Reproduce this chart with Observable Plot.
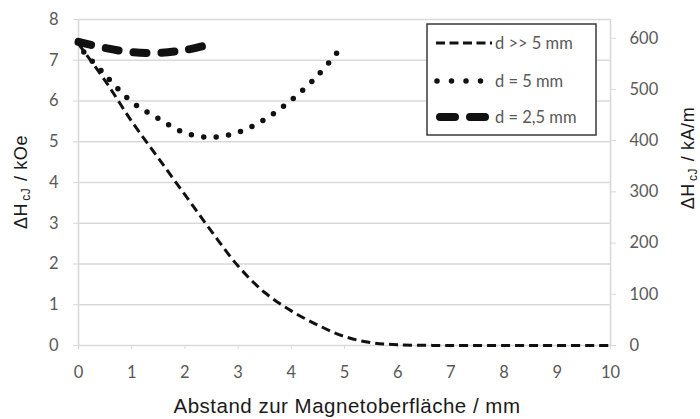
<!DOCTYPE html>
<html>
<head>
<meta charset="utf-8">
<script src="https://cdn.jsdelivr.net/npm/d3@7"></script>
<script src="https://cdn.jsdelivr.net/npm/@observablehq/plot@0.6"></script>
<style>
  html, body { margin: 0; padding: 0; background: #fff; }
  #chart svg { display: block; }
</style>
</head>
<body>
<div id="chart"></div>
<script>
// ---- data ----
const xTicks = [0, 1, 2, 3, 4, 5, 6, 7, 8, 9, 10];
const yLeftTicks = [0, 1, 2, 3, 4, 5, 6, 7, 8];
const yRightTicks = [0, 100, 200, 300, 400, 500, 600]; // kA/m
const KAM_PER_KOE = 79.577; // 1 kOe = 79.577 kA/m

const seriesNames = ["d >> 5 mm", "d = 5 mm", "d = 2,5 mm"];

const farX = [0, 0.5, 1, 1.5, 2, 2.5, 3, 3.5, 4, 4.5, 5, 5.5, 6, 7, 8, 9, 10];
const farY = [7.4, 6.5, 5.5, 4.6, 3.7, 2.8, 1.95, 1.3, 0.85, 0.5, 0.22, 0.07, 0.02, 0, 0, 0, 0];

const d5X = [0.1, 0.5, 1, 1.5, 2, 2.5, 3, 3.5, 4, 4.5, 4.87];
const d5Y = [7.2, 6.64, 5.98, 5.57, 5.22, 5.11, 5.23, 5.55, 6.02, 6.63, 7.2];

const d25X = [0, 0.5, 1, 1.5, 2, 2.5];
const d25Y = [7.45, 7.3, 7.2, 7.18, 7.25, 7.4];

const toRows = (xs, ys) => xs.map((x, i) => ({x, y: ys[i]}));
const farData = toRows(farX, farY);
const d5Data = toRows(d5X, d5Y);
const d25Data = toRows(d25X, d25Y);

const gridColor = "#d9d9d9";
const tickColor = "#595959";
const ink = "#111";

const styles = [
  {strokeWidth: 3, strokeDasharray: "9 5", strokeLinecap: "butt"},
  {strokeWidth: 5.5, strokeDasharray: "0 12.5", strokeLinecap: "round"},
  {strokeWidth: 8, strokeDasharray: "13 15", strokeLinecap: "round"}
];

const chart = Plot.plot({
  width: 700,
  height: 419,
  marginLeft: 78,
  marginRight: 90,
  marginTop: 19,
  marginBottom: 74,
  x: {domain: [0, 10]},
  y: {domain: [0, 8]},
  style: {fontFamily: "Lato, 'Open Sans', sans-serif", fontSize: "16.5px", color: tickColor, background: "#fff"},
  marks: [
    Plot.ruleY(yLeftTicks, {stroke: gridColor, strokeWidth: 1.6}),
    Plot.ruleX([0, 10], {stroke: gridColor, strokeWidth: 1.6}),
    Plot.axisX({ticks: xTicks, tickSize: 4, tickPadding: 17, stroke: gridColor, fill: tickColor, label: null}),
    Plot.axisY({anchor: "left", ticks: yLeftTicks, tickSize: 5, tickPadding: 15, stroke: gridColor, fill: tickColor, label: null}),
    Plot.axisY({anchor: "right", ticks: yRightTicks.map(v => v / KAM_PER_KOE),
      tickFormat: d => String(Math.round(d * KAM_PER_KOE)),
      tickSize: 5, tickPadding: 14, stroke: gridColor, fill: tickColor, label: null}),
    Plot.line(farData, {x: "x", y: "y", curve: "catmull-rom", stroke: ink, ...styles[0]}),
    Plot.line(d5Data, {x: "x", y: "y", curve: "catmull-rom", stroke: ink, ...styles[1]}),
    Plot.line(d25Data, {x: "x", y: "y", curve: "catmull-rom", stroke: ink, ...styles[2]})
  ]
});

document.getElementById("chart").appendChild(chart);

// ---- titles and legend (text kept as real text) ----
const svg = d3.select(chart);
const titleFont = "'Liberation Sans', Arial, sans-serif";

svg.append("text")
  .attr("x", 347).attr("y", 413)
  .attr("text-anchor", "middle")
  .attr("font-family", titleFont).attr("font-size", 20.5).attr("fill", "#1a1a1a")
  .attr("letter-spacing", 0.5)
  .text("Abstand zur Magnetoberfläche / mm");

function yTitle(x, y, unit) {
  const t = svg.append("text")
    .attr("transform", `translate(${x},${y}) rotate(-90)`)
    .attr("text-anchor", "middle")
    .attr("font-family", titleFont).attr("font-size", 18).attr("fill", "#1a1a1a")
    .attr("letter-spacing", 0.6);
  t.append("tspan").text("ΔH");
  t.append("tspan").attr("font-size", 12).attr("dy", 3).attr("dx", 2).text("cJ");
  t.append("tspan").attr("dy", -3).attr("dx", 1).text(" / " + unit);
}
yTitle(27, 182, "kOe");
yTitle(694, 158, "kA/m");

// legend
const lg = svg.append("g");
lg.append("rect").attr("x", 427).attr("y", 24).attr("width", 169).attr("height", 111)
  .attr("fill", "#fff").attr("stroke", "#3a3a3a").attr("stroke-width", 1.5);
const legendRows = [43, 81, 117];
const legendLine = [[436, 492], [437, 482], [440, 485]];
seriesNames.forEach((name, i) => {
  const s = styles[i];
  lg.append("line")
    .attr("x1", legendLine[i][0]).attr("x2", legendLine[i][1])
    .attr("y1", legendRows[i]).attr("y2", legendRows[i])
    .attr("stroke", ink).attr("stroke-width", s.strokeWidth)
    .attr("stroke-dasharray", i === 1 ? "0 14.5" : i === 2 ? "15 15" : "9 4.5")
    .attr("stroke-linecap", s.strokeLinecap);
  lg.append("text")
    .attr("x", 495).attr("y", legendRows[i] + 6)
    .attr("text-anchor", "start")
    .attr("font-family", "Lato, sans-serif").attr("font-size", 16.5).attr("fill", tickColor)
    .text(name);
});
</script>
</body>
</html>
